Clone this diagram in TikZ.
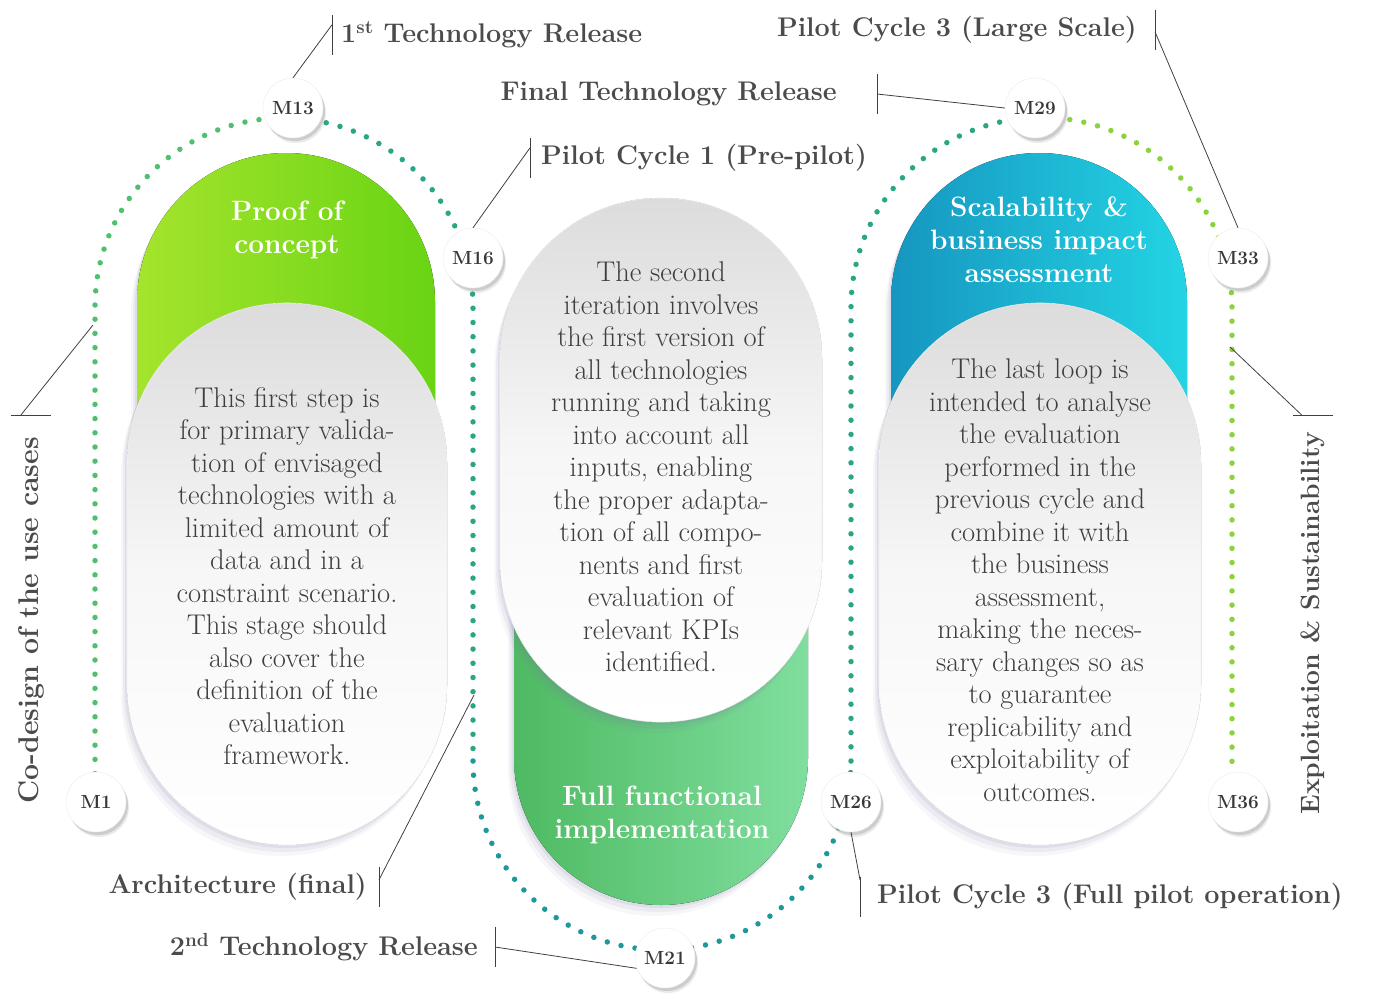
\documentclass[tikz,border=0pt]{standalone}
\usepackage{tikz}
\usetikzlibrary{positioning,shadows,calc}
\definecolor{pocA}{RGB}{165,228,45}
\definecolor{pocB}{RGB}{105,212,20}
\definecolor{ffA}{RGB}{78,186,98}
\definecolor{ffB}{RGB}{128,222,158}
\definecolor{sbA}{RGB}{22,150,192}
\definecolor{sbB}{RGB}{35,212,228}
\definecolor{pillgray}{RGB}{220,220,220}
\definecolor{pillmid}{RGB}{247,247,247}
\definecolor{shade}{RGB}{120,120,160}
\definecolor{dotgreen}{RGB}{80,192,112}
\definecolor{dotteal}{RGB}{42,166,134}
\definecolor{dotblue}{RGB}{30,152,152}
\definecolor{dotlime}{RGB}{138,210,62}
\definecolor{mtext}{RGB}{55,55,55}
\definecolor{tagtext}{RGB}{75,75,75}
\definecolor{bodytext}{RGB}{62,62,62}
\begin{document}
\begin{tikzpicture}[x=1pt,y=-1pt,
	pillshadow/.style={drop shadow={shadow xshift=-2pt,shadow yshift=-3pt,opacity=.12,fill=shade},
		drop shadow={shadow xshift=-4pt,shadow yshift=-7pt,opacity=.09,fill=shade},
		drop shadow={shadow xshift=-6pt,shadow yshift=-11pt,opacity=.06,fill=shade}},
	whitepill/.style={top color=pillgray,bottom color=white,middle color=pillmid,draw=black!5,line width=.6pt,pillshadow},
	dots/.style={line width=5.5pt,line cap=round,dash pattern=on 0pt off 14.2pt},
	mstone/.style={circle,fill=white,draw=black!8,minimum size=60pt,inner sep=0pt,text=mtext,font=\bfseries\fontsize{19}{19}\selectfont,
		drop shadow={shadow xshift=2pt,shadow yshift=-3pt,opacity=.25,fill=black!55},
		drop shadow={shadow xshift=3pt,shadow yshift=-5pt,opacity=.15,fill=black!55}},
	tag/.style={minimum height=40pt,inner ysep=0pt,inner xsep=9pt,text=tagtext,font=\bfseries\fontsize{27}{30}\selectfont},
	body/.style={align=center,text=bodytext,font=\fontsize{28.5}{32.5}\selectfont},
	title/.style={align=center,text=white,font=\bfseries\fontsize{28}{33}\selectfont},
	lead/.style={line width=.8pt,black!75}]
	\useasboundingbox (0,0) rectangle (1384,1003);
	\draw[dots,dotgreen] (95,802) -- (95,307) arc[start angle=180,end angle=90,radius=189pt];
	\draw[dots,dotteal] (284,118) arc[start angle=90,end angle=0,radius=189pt] -- (473,761);
	\draw[dots,dotblue] (473,761) arc[start angle=180,end angle=360,radius=189pt];
	\draw[dots,dotteal] (851,761) -- (851,308) arc[start angle=180,end angle=90,radius=190.5pt];
	\draw[dots,dotlime] (1041.5,117.5) arc[start angle=90,end angle=0,radius=190.5pt] -- (1232,802);
	\fill[pillshadow,left color=pocA,right color=pocB,rounded corners=148.9pt] (137,153) rectangle (435,700);
	\fill[pillshadow,left color=ffA,right color=ffB,rounded corners=146.9pt] (514,400) rectangle (808,905);
	\fill[pillshadow,left color=sbA,right color=sbB,rounded corners=147.9pt] (891,153) rectangle (1187,700);
	\filldraw[whitepill,rounded corners=159.9pt] (127,303) rectangle (447,845);
	\filldraw[whitepill,rounded corners=160.9pt] (500,198) rectangle (822,722);
	\filldraw[whitepill,rounded corners=160.9pt] (879,303) rectangle (1201,845);
	\node[title] (poc) at (287,230) {Proof of\\concept};
	\node[title] (sba) at (1039,240) {Scalability \&\\business impact\\assessment};
	\node[title] (ffi) at (662,815) {Full functional\\implementation};
	\node[body] (d1) at (287,576) {This first step is\\for primary valida-\\tion of envisaged\\technologies with a\\limited amount of\\data and in a\\constraint scenario.\\This stage should\\also cover the\\definition of the\\evaluation\\framework.};
	\node[body] (d2) at (661,467) {The second\\iteration involves\\the first version of\\all technologies\\running and taking\\into account all\\inputs, enabling\\the proper adapta-\\tion of all compo-\\nents and first\\evaluation of\\relevant KPIs\\identified.};
	\node[body] (d3) at (1040,580) {The last loop is\\intended to analyse\\the evaluation\\performed in the\\previous cycle and\\combine it with\\the business\\assessment,\\making the neces-\\sary changes so as\\to guarantee\\replicability and\\exploitability of\\outcomes.};
	\foreach \n/\x/\y in {1/96/802,13/293/108,16/473/258,21/665/958,26/851/802,29/1035/108,33/1238/258,36/1238/802}
		\node[mstone] (m\n) at (\x,\y) {M\n};
	\coordinate (codesign) at (93,325);
	\coordinate (exploit) at (1230,347);
	\coordinate (arch) at (474,695);
	\node[tag,anchor=west] (t1) at (332,35) {1\textsuperscript{st} Technology Release};
	\node[tag,anchor=east,inner xsep=40pt] (t2) at (877,94) {Final Technology Release};
	\node[tag,anchor=west,inner xsep=11pt] (t3) at (530,158) {Pilot Cycle 1 (Pre-pilot)};
	\node[tag,anchor=east,inner xsep=18pt] (t4) at (1155,30) {Pilot Cycle 3 (Large Scale)};
	\node[tag,anchor=east,inner xsep=12pt] (t5) at (379,887) {Architecture (final)};
	\node[tag,anchor=east,inner xsep=17pt] (t6) at (495,947) {2\textsuperscript{nd} Technology Release};
	\node[tag,anchor=west,inner xsep=17pt] (t7) at (860,897) {Pilot Cycle 3 (Full pilot operation)};
	\node[tag,rotate=90,anchor=east,inner xsep=22pt,font=\bfseries\fontsize{28.5}{30}\selectfont] (t8) at (31,415) {Co-design of the use cases};
	\node[tag,rotate=90,anchor=east,inner xsep=17pt,font=\bfseries\fontsize{26.5}{30}\selectfont] (t9) at (1313,415) {Exploitation \& Sustainability};
	\draw[lead] (t1.north west) -- (t1.south west);
	\draw[lead] ([yshift=-10pt]t1.north west) -- (m13.north);
	\draw[lead] (t2.north east) -- (t2.south east);
	\draw[lead] (t2.east) -- (m29.west);
	\draw[lead] (t3.north west) -- (t3.south west);
	\draw[lead] ([yshift=-10pt]t3.north west) -- (m16.north);
	\draw[lead] (t4.north east) -- (t4.south east);
	\draw[lead] ([yshift=-22pt]t4.north east) -- (m33.north);
	\draw[lead] (t5.north east) -- (t5.south east);
	\draw[lead] ([yshift=-13pt]t5.north east) -- (arch);
	\draw[lead] (t6.north east) -- (t6.south east);
	\draw[lead] (t6.east) -- (m21.200);
	\draw[lead] (t7.north west) -- (t7.south west);
	\draw[lead] ([yshift=-3pt]t7.north west) -- (m26.south);
	\draw[lead] (t8.north east) -- (t8.south east);
	\draw[lead] ($(t8.north east)!.25!(t8.south east)$) -- (codesign);
	\draw[lead] (t9.north east) -- (t9.south east);
	\draw[lead] ($(t9.north east)!.22!(t9.south east)$) -- (exploit);
\end{tikzpicture}
\end{document}
